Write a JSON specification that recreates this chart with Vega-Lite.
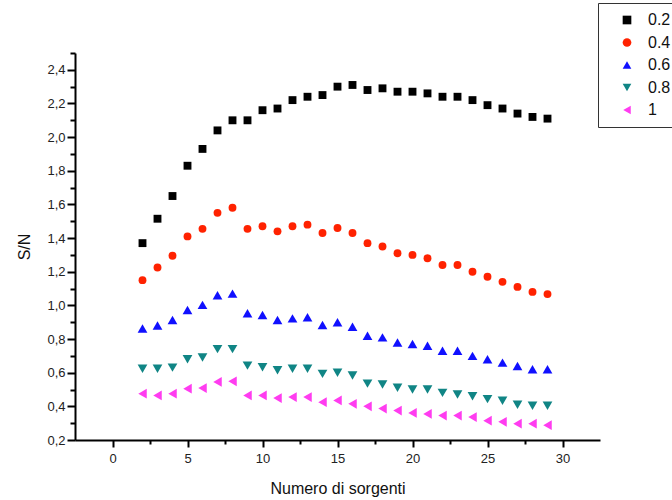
{
  "$schema": "https://vega.github.io/schema/vega-lite/v6.json",
  "width": 525,
  "height": 387,
  "autosize": {"type": "none"},
  "padding": {"left": 75, "top": 53, "right": 72, "bottom": 60},
  "background": "white",
  "config": {
    "view": {"stroke": null},
    "font": "Liberation Sans",
    "axis": {
      "grid": false,
      "domainColor": "black",
      "domainWidth": 2,
      "tickColor": "black",
      "tickWidth": 2,
      "labelFont": "Liberation Sans",
      "labelFontSize": 13,
      "labelColor": "#222222",
      "titleFont": "Liberation Sans",
      "titleFontSize": 16,
      "titleFontWeight": "normal",
      "titleColor": "#111111"
    },
    "legend": {
      "orient": "none",
      "legendX": 523,
      "legendY": -50,
      "strokeColor": "#333333",
      "fillColor": "white",
      "padding": 9,
      "symbolOffset": 12,
      "labelFont": "Liberation Sans",
      "labelFontSize": 16,
      "labelColor": "#111111",
      "labelOffset": 13,
      "rowPadding": 6.5,
      "symbolSize": 75,
      "symbolStrokeWidth": 0
    }
  },
  "data": {
    "values": [
      {"n": 2, "sn": 1.37, "s": "0.2"}, {"n": 3, "sn": 1.515, "s": "0.2"}, {"n": 4, "sn": 1.65, "s": "0.2"}, {"n": 5, "sn": 1.83, "s": "0.2"}, {"n": 6, "sn": 1.93, "s": "0.2"}, {"n": 7, "sn": 2.04, "s": "0.2"}, {"n": 8, "sn": 2.10, "s": "0.2"}, {"n": 9, "sn": 2.10, "s": "0.2"}, {"n": 10, "sn": 2.16, "s": "0.2"}, {"n": 11, "sn": 2.17, "s": "0.2"}, {"n": 12, "sn": 2.22, "s": "0.2"}, {"n": 13, "sn": 2.24, "s": "0.2"}, {"n": 14, "sn": 2.25, "s": "0.2"}, {"n": 15, "sn": 2.30, "s": "0.2"}, {"n": 16, "sn": 2.31, "s": "0.2"}, {"n": 17, "sn": 2.28, "s": "0.2"}, {"n": 18, "sn": 2.29, "s": "0.2"}, {"n": 19, "sn": 2.27, "s": "0.2"}, {"n": 20, "sn": 2.27, "s": "0.2"}, {"n": 21, "sn": 2.26, "s": "0.2"}, {"n": 22, "sn": 2.24, "s": "0.2"}, {"n": 23, "sn": 2.24, "s": "0.2"}, {"n": 24, "sn": 2.22, "s": "0.2"}, {"n": 25, "sn": 2.19, "s": "0.2"}, {"n": 26, "sn": 2.17, "s": "0.2"}, {"n": 27, "sn": 2.14, "s": "0.2"}, {"n": 28, "sn": 2.12, "s": "0.2"}, {"n": 29, "sn": 2.11, "s": "0.2"},
      {"n": 2, "sn": 1.15, "s": "0.4"}, {"n": 3, "sn": 1.225, "s": "0.4"}, {"n": 4, "sn": 1.295, "s": "0.4"}, {"n": 5, "sn": 1.41, "s": "0.4"}, {"n": 6, "sn": 1.455, "s": "0.4"}, {"n": 7, "sn": 1.55, "s": "0.4"}, {"n": 8, "sn": 1.58, "s": "0.4"}, {"n": 9, "sn": 1.455, "s": "0.4"}, {"n": 10, "sn": 1.47, "s": "0.4"}, {"n": 11, "sn": 1.44, "s": "0.4"}, {"n": 12, "sn": 1.47, "s": "0.4"}, {"n": 13, "sn": 1.48, "s": "0.4"}, {"n": 14, "sn": 1.43, "s": "0.4"}, {"n": 15, "sn": 1.46, "s": "0.4"}, {"n": 16, "sn": 1.43, "s": "0.4"}, {"n": 17, "sn": 1.37, "s": "0.4"}, {"n": 18, "sn": 1.35, "s": "0.4"}, {"n": 19, "sn": 1.31, "s": "0.4"}, {"n": 20, "sn": 1.30, "s": "0.4"}, {"n": 21, "sn": 1.28, "s": "0.4"}, {"n": 22, "sn": 1.24, "s": "0.4"}, {"n": 23, "sn": 1.24, "s": "0.4"}, {"n": 24, "sn": 1.20, "s": "0.4"}, {"n": 25, "sn": 1.17, "s": "0.4"}, {"n": 26, "sn": 1.14, "s": "0.4"}, {"n": 27, "sn": 1.11, "s": "0.4"}, {"n": 28, "sn": 1.08, "s": "0.4"}, {"n": 29, "sn": 1.067, "s": "0.4"},
      {"n": 2, "sn": 0.863, "s": "0.6"}, {"n": 3, "sn": 0.88, "s": "0.6"}, {"n": 4, "sn": 0.913, "s": "0.6"}, {"n": 5, "sn": 0.973, "s": "0.6"}, {"n": 6, "sn": 1.003, "s": "0.6"}, {"n": 7, "sn": 1.06, "s": "0.6"}, {"n": 8, "sn": 1.07, "s": "0.6"}, {"n": 9, "sn": 0.953, "s": "0.6"}, {"n": 10, "sn": 0.943, "s": "0.6"}, {"n": 11, "sn": 0.913, "s": "0.6"}, {"n": 12, "sn": 0.923, "s": "0.6"}, {"n": 13, "sn": 0.93, "s": "0.6"}, {"n": 14, "sn": 0.883, "s": "0.6"}, {"n": 15, "sn": 0.90, "s": "0.6"}, {"n": 16, "sn": 0.873, "s": "0.6"}, {"n": 17, "sn": 0.82, "s": "0.6"}, {"n": 18, "sn": 0.81, "s": "0.6"}, {"n": 19, "sn": 0.78, "s": "0.6"}, {"n": 20, "sn": 0.77, "s": "0.6"}, {"n": 21, "sn": 0.76, "s": "0.6"}, {"n": 22, "sn": 0.73, "s": "0.6"}, {"n": 23, "sn": 0.73, "s": "0.6"}, {"n": 24, "sn": 0.70, "s": "0.6"}, {"n": 25, "sn": 0.68, "s": "0.6"}, {"n": 26, "sn": 0.66, "s": "0.6"}, {"n": 27, "sn": 0.64, "s": "0.6"}, {"n": 28, "sn": 0.62, "s": "0.6"}, {"n": 29, "sn": 0.62, "s": "0.6"},
      {"n": 2, "sn": 0.624, "s": "0.8"}, {"n": 3, "sn": 0.624, "s": "0.8"}, {"n": 4, "sn": 0.63, "s": "0.8"}, {"n": 5, "sn": 0.68, "s": "0.8"}, {"n": 6, "sn": 0.69, "s": "0.8"}, {"n": 7, "sn": 0.74, "s": "0.8"}, {"n": 8, "sn": 0.74, "s": "0.8"}, {"n": 9, "sn": 0.642, "s": "0.8"}, {"n": 10, "sn": 0.632, "s": "0.8"}, {"n": 11, "sn": 0.614, "s": "0.8"}, {"n": 12, "sn": 0.624, "s": "0.8"}, {"n": 13, "sn": 0.624, "s": "0.8"}, {"n": 14, "sn": 0.593, "s": "0.8"}, {"n": 15, "sn": 0.60, "s": "0.8"}, {"n": 16, "sn": 0.583, "s": "0.8"}, {"n": 17, "sn": 0.535, "s": "0.8"}, {"n": 18, "sn": 0.53, "s": "0.8"}, {"n": 19, "sn": 0.51, "s": "0.8"}, {"n": 20, "sn": 0.50, "s": "0.8"}, {"n": 21, "sn": 0.50, "s": "0.8"}, {"n": 22, "sn": 0.48, "s": "0.8"}, {"n": 23, "sn": 0.47, "s": "0.8"}, {"n": 24, "sn": 0.46, "s": "0.8"}, {"n": 25, "sn": 0.443, "s": "0.8"}, {"n": 26, "sn": 0.433, "s": "0.8"}, {"n": 27, "sn": 0.41, "s": "0.8"}, {"n": 28, "sn": 0.403, "s": "0.8"}, {"n": 29, "sn": 0.403, "s": "0.8"},
      {"n": 2, "sn": 0.475, "s": "1"}, {"n": 3, "sn": 0.465, "s": "1"}, {"n": 4, "sn": 0.475, "s": "1"}, {"n": 5, "sn": 0.505, "s": "1"}, {"n": 6, "sn": 0.509, "s": "1"}, {"n": 7, "sn": 0.545, "s": "1"}, {"n": 8, "sn": 0.549, "s": "1"}, {"n": 9, "sn": 0.465, "s": "1"}, {"n": 10, "sn": 0.465, "s": "1"}, {"n": 11, "sn": 0.449, "s": "1"}, {"n": 12, "sn": 0.455, "s": "1"}, {"n": 13, "sn": 0.455, "s": "1"}, {"n": 14, "sn": 0.425, "s": "1"}, {"n": 15, "sn": 0.435, "s": "1"}, {"n": 16, "sn": 0.415, "s": "1"}, {"n": 17, "sn": 0.40, "s": "1"}, {"n": 18, "sn": 0.387, "s": "1"}, {"n": 19, "sn": 0.375, "s": "1"}, {"n": 20, "sn": 0.361, "s": "1"}, {"n": 21, "sn": 0.355, "s": "1"}, {"n": 22, "sn": 0.345, "s": "1"}, {"n": 23, "sn": 0.345, "s": "1"}, {"n": 24, "sn": 0.336, "s": "1"}, {"n": 25, "sn": 0.315, "s": "1"}, {"n": 26, "sn": 0.308, "s": "1"}, {"n": 27, "sn": 0.297, "s": "1"}, {"n": 28, "sn": 0.297, "s": "1"}, {"n": 29, "sn": 0.288, "s": "1"}
    ]
  },
  "layer": [
    {
      "mark": {"type": "point", "filled": true, "opacity": 1, "strokeWidth": 0},
      "encoding": {
        "x": {
          "field": "n", "type": "quantitative",
          "scale": {"domain": [-2.5, 32.5], "nice": false, "zero": false},
          "axis": {"orient": "bottom", "values": [0, 5, 10, 15, 20, 25, 30], "tickSize": 7, "labelPadding": 5, "title": "Numero di sorgenti", "titlePadding": 15, "labelFlush": false}
        },
        "y": {
          "field": "sn", "type": "quantitative",
          "scale": {"domain": [0.2, 2.5], "nice": false, "zero": false},
          "axis": {"orient": "left", "values": [0.2, 0.4, 0.6, 0.8, 1.0, 1.2, 1.4, 1.6, 1.8, 2.0, 2.2, 2.4], "tickSize": 8, "labelPadding": 2, "labelExpr": "replace(format(datum.value, '.1f'), '.', ',')", "title": "S/N", "titlePadding": 14, "labelFlush": false}
        },
        "color": {
          "field": "s", "type": "nominal",
          "scale": {"domain": ["0.2", "0.4", "0.6", "0.8", "1"], "range": ["#000000", "#ff2200", "#1010ff", "#108585", "#ff3cf0"]},
          "legend": {"title": null}
        },
        "shape": {
          "field": "s", "type": "nominal",
          "scale": {"domain": ["0.2", "0.4", "0.6", "0.8", "1"], "range": ["square", "circle", "triangle-up", "triangle-down", "triangle-left"]},
          "legend": {"title": null}
        },
        "size": {
          "condition": {"test": "datum.s === '0.2' || datum.s === '0.4'", "value": 62},
          "value": 95
        }
      }
    },
    {
      "mark": {"type": "point", "opacity": 0},
      "encoding": {
        "x": {
          "field": "n", "type": "quantitative",
          "axis": {"orient": "bottom", "values": [2.5, 7.5, 12.5, 17.5, 22.5, 27.5], "tickSize": 4, "labels": false, "domain": false, "title": null}
        },
        "y": {
          "field": "sn", "type": "quantitative",
          "axis": {"orient": "left", "values": [0.3, 0.5, 0.7, 0.9, 1.1, 1.3, 1.5, 1.7, 1.9, 2.1, 2.3, 2.5], "tickSize": 5, "labels": false, "domain": false, "title": null}
        }
      }
    }
  ],
  "resolve": {"axis": {"x": "independent", "y": "independent"}}
}
